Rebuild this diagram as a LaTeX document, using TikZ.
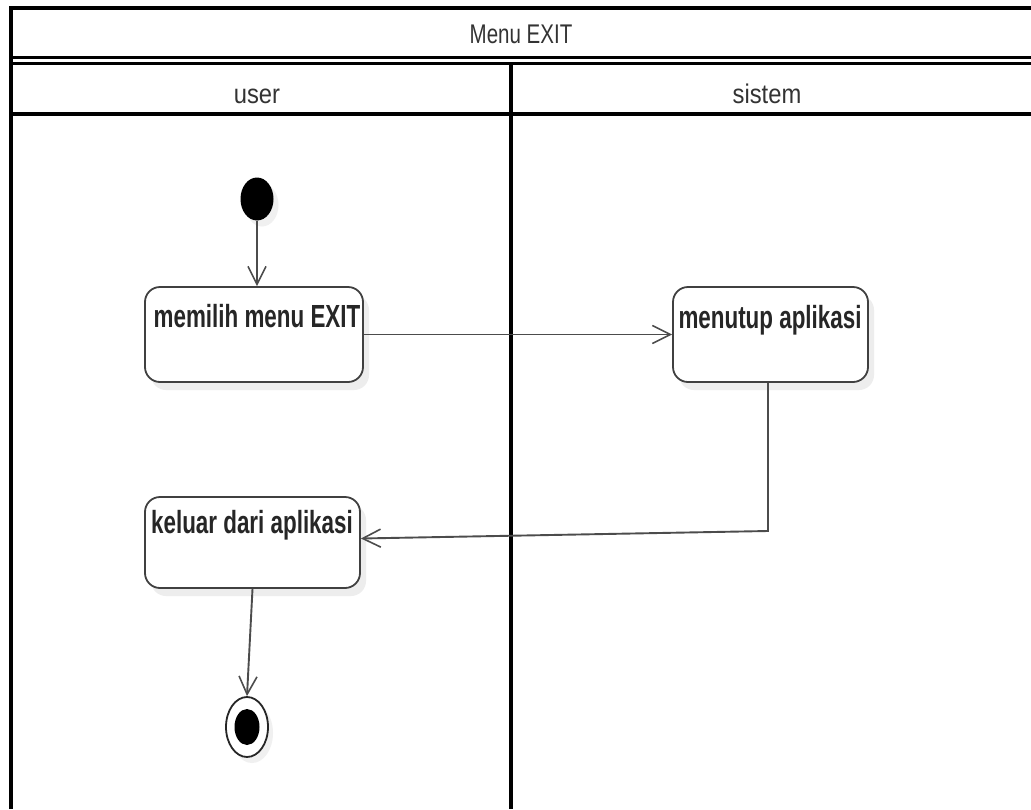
\documentclass[tikz,border=0pt]{standalone}
\usepackage{fontspec}
\setmainfont{Liberation Sans}
\newfontfamily\titlefont[FakeStretch=0.76]{Liberation Sans}
\newfontfamily\headfont[FakeStretch=0.88]{Liberation Sans}
\newfontfamily\actfont[FakeStretch=0.70]{Liberation Sans}
\usetikzlibrary{arrows.meta,shadows,calc,shapes.geometric}

\begin{document}
\begin{tikzpicture}[x=1pt,y=-1pt,
  frame/.style={line width=3.5pt, black},
  headtext/.style={font=\titlefont\fontsize{27}{31}\selectfont, text=black!80, anchor=base, inner sep=0pt},
  lanetext/.style={font=\headfont\fontsize{27}{31}\selectfont, text=black!80, anchor=base, inner sep=0pt},
  activity/.style={draw=black!75, line width=1.8pt, rounded corners=15pt, fill=white, inner sep=0pt,
    drop shadow={fill=black!7, opacity=1, shadow xshift=6pt, shadow yshift=-8pt}},
  acttext/.style={font=\actfont\bfseries\fontsize{32}{36}\selectfont, text=black!85, anchor=base, inner sep=0pt},
  flow/.style={draw=black!70, line width=1.9pt, -{Straight Barb[length=18pt,width=18pt,line width=1.6pt]}},
]
\useasboundingbox (0,0) rectangle (1031,809);
\fill[white] (0,0) rectangle (1031,809);

% swimlane frame
\draw[frame] (11,809) -- (11,8) -- (1031,8);
\draw[frame, line width=3pt] (11,57) -- (1031,57);
\draw[frame, line width=3pt] (11,63.5) -- (1031,63.5);
\draw[frame] (11,114) -- (1031,114);
\draw[frame] (511,63.5) -- (511,809);

% headers
\node[headtext] (title) at (521,43) {Menu EXIT};
\node[lanetext] (laneuser) at (257,103) {user};
\node[lanetext] (lanesistem) at (767,103) {sistem};

% activities
\node[activity, minimum width=218pt, minimum height=95pt] (memilih) at (254,334.5) {};
\node[activity, minimum width=195pt, minimum height=95pt] (menutup) at (770.5,334.5) {};
\node[activity, minimum width=215pt, minimum height=91pt] (keluar) at (252.5,542.5) {};
\node[acttext] (memilihtxt) at (257,327) {memilih menu EXIT};
\node[acttext] (menutuptxt) at (770,328) {menutup aplikasi};
\node[acttext] (keluartxt) at (252,533) {keluar dari aplikasi};

% initial and final states
\node[ellipse, fill=black, minimum width=33pt, minimum height=43pt, inner sep=0pt,
  drop shadow={fill=black!6, opacity=1, shadow xshift=5pt, shadow yshift=-6pt}] (start) at (257,199) {};
\node[ellipse, draw=black!85, line width=1.8pt, fill=white, minimum width=42pt, minimum height=60pt, inner sep=0pt,
  drop shadow={fill=black!6, opacity=1, shadow xshift=5pt, shadow yshift=-6pt}] (final) at (247,727) {};
\node[ellipse, fill=black, minimum width=25pt, minimum height=36pt, inner sep=0pt] (finaldot) at (final.center) {};

% control flows
\coordinate (bend) at (768,531);
\draw[flow] (start.south) -- (start.south |- memilih.north);
\draw[flow] (memilih.east) -- (memilih.east -| menutup.west);
\draw[flow] ([xshift=-2.5pt]menutup.south) -- (bend) -- ([yshift=4pt]keluar.east);
\draw[flow] (keluar.south) -- (final.north);
\end{tikzpicture}
\end{document}
